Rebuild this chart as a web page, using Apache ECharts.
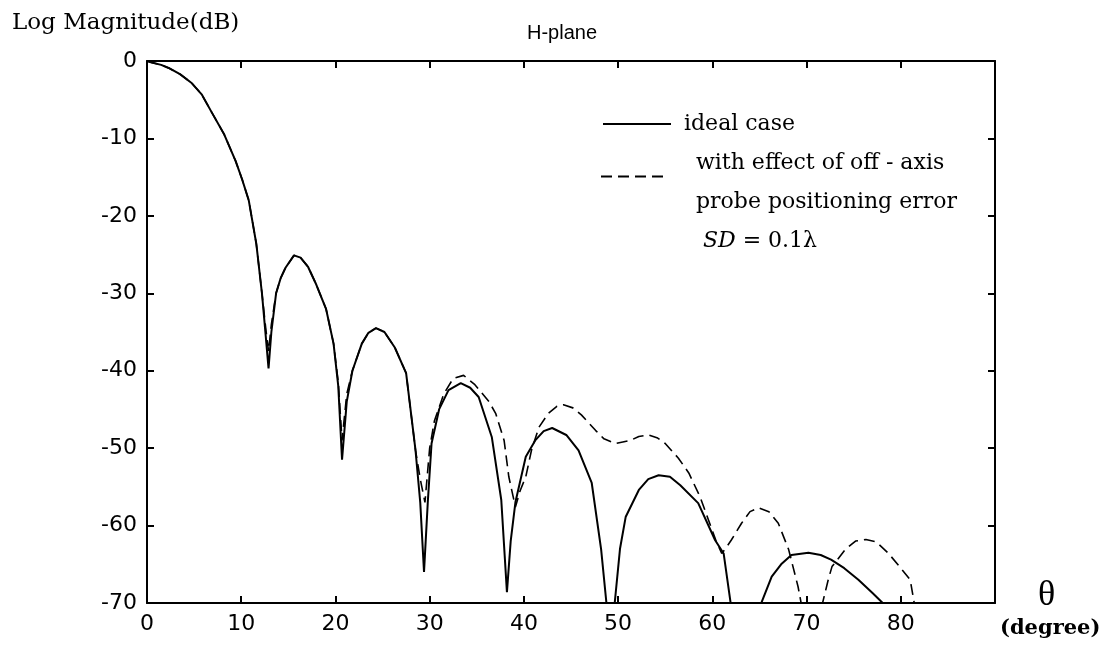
<!DOCTYPE html>
<html>
<head>
<meta charset="utf-8">
<script src="https://cdn.jsdelivr.net/npm/echarts@6/dist/echarts.min.js"></script>
<style>
html,body{margin:0;padding:0;background:#fff;}
#main{width:1105px;height:649px;}
</style>
</head>
<body>
<div id="main"></div>
<script>
// ---- data (theta in degrees, magnitude in dB); null = curve leaves the plot below -70 ----
var thetaIdeal = [0,0.5,1.5,2.3,3.5,4.7,5.8,6.9,8.2,9.4,10.1,10.8,11.6,12.2,12.6,12.9,13.2,13.7,14.2,14.7,15.6,16.3,17.1,17.9,19.0,19.8,20.3,20.7,21.2,21.8,22.8,23.5,24.3,25.2,26.3,27.5,28.5,29.0,29.4,29.8,30.2,31.0,32.0,33.3,34.3,35.2,36.6,37.6,38.2,38.6,39.1,40.2,41.2,42.1,43.0,44.5,45.8,47.2,48.2,48.8,49.2,49.6,50.2,50.8,52.2,53.2,54.3,55.5,56.6,58.5,60.3,61.2,62.0,63.5,65.1,66.3,67.3,68.4,70.2,71.5,72.6,74.0,75.5,77.0,78.5];
var magIdeal   = [0,-0.2,-0.5,-0.9,-1.7,-2.8,-4.3,-6.7,-9.5,-12.9,-15.3,-18,-23.6,-30,-35.5,-39.7,-35,-30,-28,-26.7,-25.1,-25.4,-26.6,-28.7,-32,-36.5,-42,-51.5,-44,-40,-36.5,-35.1,-34.5,-35,-37,-40.3,-50.3,-57,-66,-57,-49.4,-45,-42.5,-41.6,-42.2,-43.4,-48.6,-56.7,-68.6,-62,-57,-51.1,-49,-47.8,-47.4,-48.3,-50.3,-54.5,-63.1,-70.5,null,-70.5,-63,-58.9,-55.4,-54,-53.5,-53.7,-54.8,-57.1,-61.9,-63.6,-70.5,null,-70.3,-66.6,-65,-63.8,-63.5,-63.8,-64.4,-65.5,-67,-68.7,-70.5];

var thetaErr = [0,0.5,1.5,2.3,3.5,4.7,5.8,6.9,8.2,9.4,10.1,10.8,11.6,12.2,12.6,12.9,13.2,13.7,14.2,14.7,15.6,16.3,17.1,17.9,19.0,19.8,20.3,20.7,21.2,21.8,22.8,23.5,24.3,25.2,26.3,27.5,28.5,29.0,29.5,30.0,30.5,31.5,32.5,33.6,34.8,36.3,37.0,37.9,38.4,39.1,39.6,40.2,40.8,41.6,42.6,43.5,44.2,45.2,46.1,47.6,48.5,49.7,50.5,51.3,52.2,53.2,54.2,55.0,56.4,57.5,58.7,59.6,60.4,61.0,61.5,62.0,63.1,64.0,64.9,66.0,67.0,68.1,69.1,69.5,70.5,71.6,72.3,72.7,74.1,75.2,76.3,77.4,78.7,80.0,81.0,81.5];
var magErr   = [0,-0.2,-0.5,-0.9,-1.7,-2.8,-4.3,-6.7,-9.5,-12.9,-15.3,-18,-23.6,-30,-34.5,-37.5,-34,-30,-28,-26.7,-25.1,-25.4,-26.6,-28.7,-32,-36.5,-41.5,-49,-43,-40,-36.5,-35.1,-34.5,-35,-37,-40.3,-50.3,-54,-57,-50,-46.5,-43,-41,-40.6,-41.8,-44,-45.5,-49,-53.7,-57.6,-55.5,-53.7,-50.3,-47.3,-45.5,-44.6,-44.4,-44.8,-45.7,-47.7,-48.8,-49.4,-49.2,-49,-48.5,-48.3,-48.7,-49.4,-51.3,-53.2,-56.3,-59.3,-62,-63.6,-62.8,-61.9,-59.7,-58.2,-57.7,-58.2,-59.7,-63.1,-67.9,-70.5,null,-70.5,-67,-65.3,-63.1,-62,-61.8,-62.1,-63.6,-65.5,-67,-70.5];

var xTicks = [0,10,20,30,40,50,60,70,80];
var yTicks = [0,-10,-20,-30,-40,-50,-60,-70];
var nameIdeal = 'ideal case';
var nameErr = 'with effect of off - axis probe positioning error SD = 0.1\u03bb';

function pairs(xs, ys){
  return xs.map(function(x,i){ return [x, ys[i] === null ? '-' : ys[i]]; });
}

var chart = echarts.init(document.getElementById('main'), null, {renderer:'canvas'});
var axisCol = '#000';
var labelFont = {fontFamily:'DejaVu Sans', fontSize:22, color:'#000'};
var serif = 'DejaVu Serif';

var option = {
  backgroundColor:'#fff',
  animation:false,
  title:{
    text:'H-plane', left:522, top:18,
    textStyle:{fontFamily:'Liberation Sans', fontSize:20, fontWeight:'normal', color:'#000'}
  },
  grid:{left:147, right:110, top:61, bottom:46},
  legend:[
    {
      data:[nameIdeal], left:597, top:108, orient:'vertical',
      itemWidth:68, itemHeight:14,
      itemStyle:{opacity:0},
      textStyle:{fontFamily:serif, fontSize:22, color:'#000', padding:[0,0,0,8]},
      selectedMode:false
    },
    {
      data:[nameErr], left:595, top:87, orient:'vertical',
      itemWidth:66, itemHeight:14,
      itemStyle:{opacity:0},
      formatter:function(){ return 'with effect of off - axis\nprobe positioning error\n {it|SD} = 0.1\u03bb'; },
      textStyle:{fontFamily:serif, fontSize:22, color:'#000', lineHeight:39, padding:[52,0,0,24],
        rich:{it:{fontFamily:serif, fontStyle:'italic', fontSize:22, lineHeight:39}}},
      selectedMode:false
    }
  ],
  xAxis:[
    {type:'value', min:0, max:90, interval:10, position:'bottom',
     axisLine:{show:true, onZero:false, lineStyle:{color:axisCol, width:2}},
     axisTick:{show:true, inside:true, length:7, lineStyle:{color:axisCol, width:2}},
     axisLabel:Object.assign({margin:10, formatter:function(v){ return xTicks.indexOf(v) >= 0 ? String(v) : ''; }}, labelFont),
     splitLine:{show:false}},
    {type:'value', min:0, max:90, interval:10, position:'top',
     axisLine:{show:true, onZero:false, lineStyle:{color:axisCol, width:2}},
     axisTick:{show:true, inside:true, length:7, lineStyle:{color:axisCol, width:2}},
     axisLabel:{show:false}, splitLine:{show:false}}
  ],
  yAxis:[
    {type:'value', min:-70, max:0, interval:10, position:'left',
     axisLine:{show:true, onZero:false, lineStyle:{color:axisCol, width:2}},
     axisTick:{show:true, inside:true, length:7, lineStyle:{color:axisCol, width:2}},
     axisLabel:Object.assign({margin:10, formatter:function(v){ return yTicks.indexOf(v) >= 0 ? String(v) : ''; }}, labelFont),
     splitLine:{show:false}},
    {type:'value', min:-70, max:0, interval:10, position:'right',
     axisLine:{show:true, onZero:false, lineStyle:{color:axisCol, width:2}},
     axisTick:{show:true, inside:true, length:7, lineStyle:{color:axisCol, width:2}},
     axisLabel:{show:false}, splitLine:{show:false}}
  ],
  series:[
    {name:nameIdeal, type:'line', xAxisIndex:0, yAxisIndex:0, data:pairs(thetaIdeal, magIdeal),
     showSymbol:false, symbol:'none', clip:true, connectNulls:false,
     lineStyle:{color:'#000', width:2, type:'solid'}, itemStyle:{color:'#000'}},
    {name:nameErr, type:'line', xAxisIndex:0, yAxisIndex:0, data:pairs(thetaErr, magErr),
     showSymbol:false, symbol:'none', clip:true, connectNulls:false,
     lineStyle:{color:'#000', width:1.6, type:[11,6]}, itemStyle:{color:'#000'}}
  ],
  graphic:[
    {type:'text', left:12, top:12, style:{text:'Log Magnitude(dB)', font:'23px "DejaVu Serif"', fill:'#000'}},
    {type:'text', left:1038, top:578, style:{text:'\u03b8', font:'36px "Liberation Serif"', fill:'#000'}},
    {type:'text', left:1000, top:618, style:{text:'(degree)', font:'bold 21px "DejaVu Serif"', fill:'#000'}}
  ]
};
chart.setOption(option);
</script>
</body>
</html>
